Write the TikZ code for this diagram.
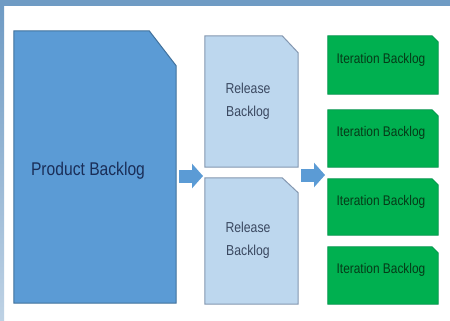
\documentclass[tikz,border=0pt]{standalone}
\usepackage{fontspec}
\setmainfont{Liberation Sans}[FakeStretch=0.85]
\usetikzlibrary{arrows.meta}

\definecolor{bandblue}{HTML}{6F9BC4}
\definecolor{prodfill}{HTML}{5B9BD5}
\definecolor{prodline}{HTML}{41719C}
\definecolor{prodtext}{HTML}{1A2E58}
\definecolor{relfill}{HTML}{BDD7EE}
\definecolor{relline}{HTML}{8497B0}
\definecolor{reltext}{HTML}{3A4860}
\definecolor{iterfill}{HTML}{00B050}
\definecolor{iterline}{HTML}{00924A}
\definecolor{itertext}{HTML}{063A18}

% sheet with one corner cut off: node, cut x, cut y, colours
\newcommand{\cutsheet}[4]{%
  \draw[#4] (#1.south west) -- (#1.north west) -- ([xshift=-#2]#1.north east)
    -- ([yshift=-#3]#1.north east) -- (#1.south east) -- cycle;}

\begin{document}
\begin{tikzpicture}[x=1pt,y=-1pt]
	\tikzset{sheet/.style = {shape=rectangle, inner sep=0pt}}
	\tikzset{bigarrow/.style = {draw=prodfill, line width=13pt, -{Triangle[length=11pt,width=24pt]}}}
	\tikzset{prodlabel/.style = {text=prodtext, font=\fontsize{18.4}{20}\selectfont}}
	\tikzset{rellabel/.style = {text=reltext, align=center, font=\fontsize{14.4}{23}\selectfont}}
	\tikzset{iterlabel/.style = {text=itertext, font=\fontsize{14}{16}\selectfont}}

	% frame
	\fill[white] (0,0) rectangle (450,321);
	\fill[bandblue] (0,0) rectangle (450,6);
	\shade[top color=bandblue, bottom color=bandblue!45] (0,6) rectangle (4,321);

	% sheets
	\node[sheet, minimum width=162pt, minimum height=272pt] (pb) at (95,167) {};
	\node[sheet, minimum width=93pt, minimum height=131pt] (rb1) at (251.5,101.5) {};
	\node[sheet, minimum width=93pt, minimum height=126pt] (rb2) at (251.5,241) {};
	\node[sheet, minimum width=110pt, minimum height=58pt] (ib1) at (383,65) {};
	\node[sheet, minimum width=110pt, minimum height=57pt] (ib2) at (383,138.5) {};
	\node[sheet, minimum width=110pt, minimum height=56pt] (ib3) at (383,207) {};
	\node[sheet, minimum width=110pt, minimum height=57pt] (ib4) at (383,275.5) {};

	\cutsheet{pb}{27pt}{35pt}{fill=prodfill, draw=prodline, line width=1pt}
	\cutsheet{rb1}{16pt}{17pt}{fill=relfill, draw=relline, line width=1pt}
	\cutsheet{rb2}{16pt}{15pt}{fill=relfill, draw=relline, line width=1pt}
	\cutsheet{ib1}{6pt}{6pt}{fill=iterfill, draw=iterline, line width=0.8pt}
	\cutsheet{ib2}{6pt}{6pt}{fill=iterfill, draw=iterline, line width=0.8pt}
	\cutsheet{ib3}{6pt}{6pt}{fill=iterfill, draw=iterline, line width=0.8pt}
	\cutsheet{ib4}{6pt}{6pt}{fill=iterfill, draw=iterline, line width=0.8pt}

	% texts
	\node[prodlabel] (pbtext) at (88,171) {Product Backlog};
	\node[rellabel] (rb1text) at (248,101) {Release\\Backlog};
	\node[rellabel] (rb2text) at (248,240) {Release\\Backlog};
	\node[iterlabel] (ib1text) at (381,59.5) {Iteration Backlog};
	\node[iterlabel] (ib2text) at (381,133) {Iteration Backlog};
	\node[iterlabel] (ib3text) at (381,202) {Iteration Backlog};
	\node[iterlabel] (ib4text) at (381,270) {Iteration Backlog};

	% arrows
	\coordinate (a1s) at (179,176);
	\coordinate (a1e) at (203,176);
	\coordinate (a2s) at (301,175);
	\coordinate (a2e) at (325,175);
	\draw[bigarrow] (a1s) -- (a1e);
	\draw[bigarrow] (a2s) -- (a2e);

\end{tikzpicture}
\end{document}
